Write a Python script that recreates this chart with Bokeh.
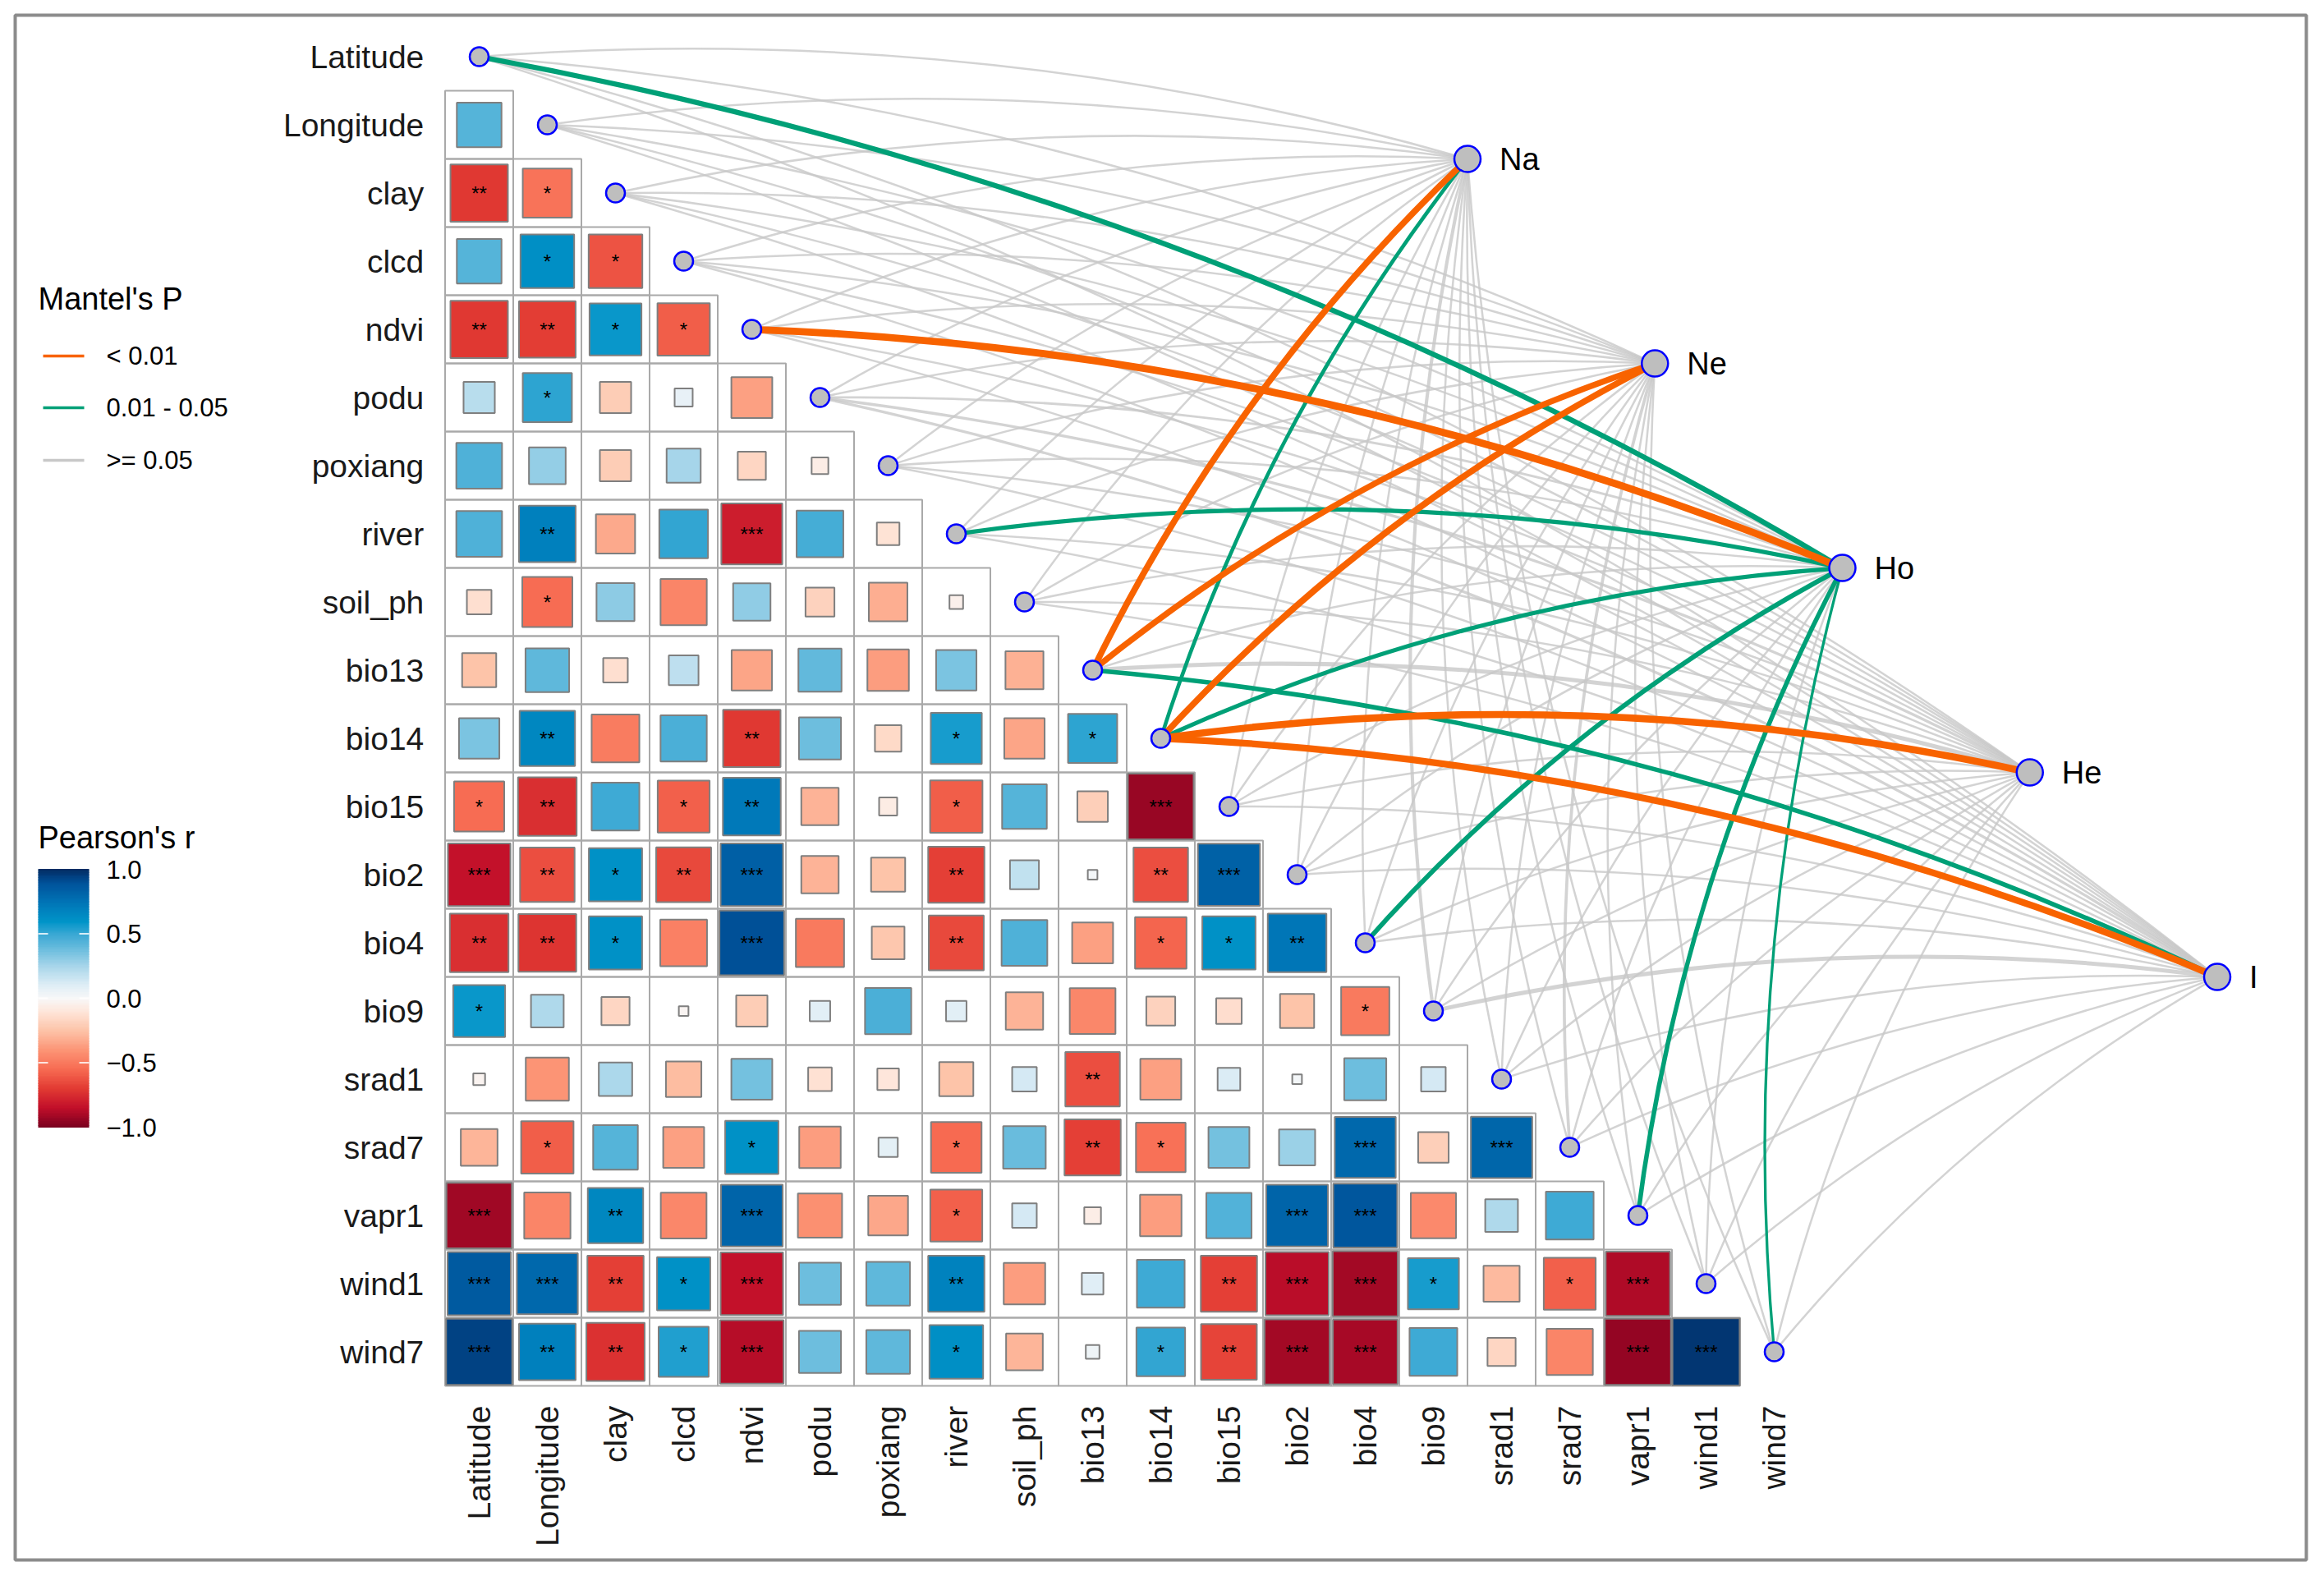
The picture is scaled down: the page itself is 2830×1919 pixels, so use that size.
import math
from bokeh.plotting import figure
from bokeh.models import Range1d, ColumnDataSource, LinearColorMapper
from bokeh.transform import transform
from bokeh.embed import file_html
from bokeh.resources import INLINE
from bokeh.core.properties import value

# ---------------- data ----------------
env_vars = ["Latitude", "Longitude", "clay", "clcd", "ndvi", "podu", "poxiang", "river",
            "soil_ph", "bio13", "bio14", "bio15", "bio2", "bio4", "bio9", "srad1",
            "srad7", "vapr1", "wind1", "wind7"]

# lower-triangle Pearson's r, row i holds r(i, j) for j < i
pearson_r = [
    [],
    [0.43],
    [-0.71, -0.52],
    [0.43, 0.62, -0.62],
    [-0.71, -0.69, 0.58, -0.59],
    [0.21, 0.52, -0.21, 0.07, -0.36],
    [0.45, 0.29, -0.21, 0.25, -0.17, -0.06],
    [0.45, 0.69, -0.33, 0.51, -0.80, 0.47, -0.11],
    [-0.13, -0.54, 0.31, -0.46, 0.30, -0.18, -0.32, -0.04],
    [-0.25, 0.41, -0.13, 0.19, -0.35, 0.40, -0.37, 0.35, -0.31],
    [0.35, 0.66, -0.49, 0.46, -0.71, 0.38, -0.15, 0.56, -0.35, 0.52],
    [-0.54, -0.74, 0.49, -0.58, 0.72, -0.30, -0.07, -0.59, 0.43, -0.20, -0.93],
    [-0.84, -0.64, 0.61, -0.65, 0.84, -0.30, -0.25, -0.68, 0.18, 0.02, -0.64, 0.83],
    [-0.74, -0.72, 0.61, -0.47, 0.90, -0.50, -0.23, -0.65, 0.45, -0.36, -0.57, 0.61, 0.74],
    [0.58, 0.23, -0.17, -0.02, -0.21, 0.09, 0.46, 0.09, -0.30, -0.45, -0.18, -0.14, -0.25, -0.50],
    [-0.03, -0.40, 0.24, -0.27, 0.36, -0.12, -0.10, -0.25, 0.13, -0.64, -0.36, 0.11, 0.02, 0.38, 0.13],
    [-0.29, -0.59, 0.43, -0.36, 0.61, -0.37, 0.08, -0.55, 0.39, -0.68, -0.53, 0.36, 0.28, 0.80, -0.20, 0.81],
    [-0.92, -0.46, 0.66, -0.45, 0.82, -0.42, -0.34, -0.58, 0.13, -0.06, -0.37, 0.44, 0.82, 0.88, -0.44, 0.23, 0.49],
    [0.86, 0.80, -0.68, 0.61, -0.84, 0.38, 0.41, 0.68, -0.37, 0.10, 0.49, -0.68, -0.86, -0.91, 0.56, -0.28, -0.58, -0.89],
    [0.94, 0.69, -0.73, 0.54, -0.87, 0.38, 0.41, 0.62, -0.29, 0.04, 0.51, -0.67, -0.91, -0.90, 0.49, -0.17, -0.46, -0.94, 0.97],
]

pearson_sig = [
    [],
    [""],
    ["**", "*"],
    ["", "*", "*"],
    ["**", "**", "*", "*"],
    ["", "*", "", "", ""],
    ["", "", "", "", "", ""],
    ["", "**", "", "", "***", "", ""],
    ["", "*", "", "", "", "", "", ""],
    ["", "", "", "", "", "", "", "", ""],
    ["", "**", "", "", "**", "", "", "*", "", "*"],
    ["*", "**", "", "*", "**", "", "", "*", "", "", "***"],
    ["***", "**", "*", "**", "***", "", "", "**", "", "", "**", "***"],
    ["**", "**", "*", "", "***", "", "", "**", "", "", "*", "*", "**"],
    ["*", "", "", "", "", "", "", "", "", "", "", "", "", "*"],
    ["", "", "", "", "", "", "", "", "", "**", "", "", "", "", ""],
    ["", "*", "", "", "*", "", "", "*", "", "**", "*", "", "", "***", "", "***"],
    ["***", "", "**", "", "***", "", "", "*", "", "", "", "", "***", "***", "", "", ""],
    ["***", "***", "**", "*", "***", "", "", "**", "", "", "", "**", "***", "***", "*", "", "*", "***"],
    ["***", "**", "**", "*", "***", "", "", "*", "", "", "*", "**", "***", "***", "", "", "", "***", "***"],
]

gene_nodes = ["Na", "Ne", "Ho", "He", "I"]

P_LT01 = "< 0.01"
P_MID = "0.01 - 0.05"
P_GE05 = ">= 0.05"
p_levels = [P_LT01, P_MID, P_GE05]

# Mantel's P class per env var (rows) x node (Na, Ne, Ho, He, I)
mantel_p = [
    [P_GE05, P_GE05, P_MID, P_GE05, P_GE05],    # Latitude
    [P_GE05, P_GE05, P_GE05, P_GE05, P_GE05],   # Longitude
    [P_GE05, P_GE05, P_GE05, P_GE05, P_GE05],   # clay
    [P_GE05, P_GE05, P_GE05, P_GE05, P_GE05],   # clcd
    [P_GE05, P_GE05, P_LT01, P_GE05, P_GE05],   # ndvi
    [P_GE05, P_GE05, P_GE05, P_GE05, P_GE05],   # podu
    [P_GE05, P_GE05, P_GE05, P_GE05, P_GE05],   # poxiang
    [P_GE05, P_GE05, P_MID, P_GE05, P_GE05],    # river
    [P_GE05, P_GE05, P_GE05, P_GE05, P_GE05],   # soil_ph
    [P_LT01, P_LT01, P_GE05, P_GE05, P_MID],    # bio13
    [P_MID, P_LT01, P_MID, P_LT01, P_LT01],     # bio14
    [P_GE05, P_GE05, P_GE05, P_GE05, P_GE05],   # bio15
    [P_GE05, P_GE05, P_GE05, P_GE05, P_GE05],   # bio2
    [P_GE05, P_GE05, P_MID, P_GE05, P_GE05],    # bio4
    [P_GE05, P_GE05, P_GE05, P_GE05, P_GE05],   # bio9
    [P_GE05, P_GE05, P_GE05, P_GE05, P_GE05],   # srad1
    [P_GE05, P_GE05, P_GE05, P_GE05, P_GE05],   # srad7
    [P_GE05, P_GE05, P_MID, P_GE05, P_GE05],    # vapr1
    [P_GE05, P_GE05, P_GE05, P_GE05, P_GE05],   # wind1
    [P_GE05, P_GE05, P_MID, P_GE05, P_GE05],    # wind7
]

# Mantel's r (estimated from line widths)
mantel_r = [
    [0.08, 0.08, 0.37, 0.08, 0.08],
    [0.08, 0.08, 0.08, 0.08, 0.08],
    [0.08, 0.08, 0.08, 0.08, 0.08],
    [0.08, 0.08, 0.08, 0.08, 0.08],
    [0.08, 0.08, 0.56, 0.08, 0.08],
    [0.08, 0.08, 0.10, 0.14, 0.14],
    [0.08, 0.08, 0.08, 0.08, 0.08],
    [0.08, 0.08, 0.29, 0.08, 0.08],
    [0.08, 0.08, 0.08, 0.08, 0.08],
    [0.47, 0.45, 0.08, 0.27, 0.31],
    [0.24, 0.48, 0.29, 0.55, 0.52],
    [0.08, 0.08, 0.08, 0.08, 0.08],
    [0.08, 0.08, 0.08, 0.08, 0.08],
    [0.08, 0.08, 0.33, 0.08, 0.08],
    [0.20, 0.08, 0.08, 0.08, 0.27],
    [0.08, 0.08, 0.08, 0.08, 0.08],
    [0.08, 0.17, 0.08, 0.08, 0.08],
    [0.08, 0.08, 0.31, 0.08, 0.08],
    [0.08, 0.08, 0.08, 0.08, 0.08],
    [0.08, 0.08, 0.14, 0.08, 0.08],
]

cbar_ticks = [1.0, 0.5, 0.0, -0.5, -1.0]
cbar_labels = ["1.0", "0.5", "0.0", "\u22120.5", "\u22121.0"]

# ---------------- styles ----------------
FONT = value("Liberation Sans")
line_colors = {P_LT01: "#F86300", P_MID: "#00A077", P_GE05: "#C8C8C8"}
line_alpha = {P_LT01: 1.0, P_MID: 1.0, P_GE05: 0.8}

anchors = [(-1.0, "#7A001F"), (-0.85, "#C20F2A"), (-0.7, "#E23B33"), (-0.55, "#F76B52"),
           (-0.4, "#FC9576"), (-0.25, "#FDC3A8"), (-0.1, "#FEE6DA"), (0.0, "#F8F8F8"),
           (0.1, "#E0EEF6"), (0.25, "#A8D6EA"), (0.4, "#64BADC"), (0.5, "#3AA8D4"),
           (0.6, "#0094C8"), (0.75, "#0074B6"), (0.9, "#00529A"), (1.0, "#032E66")]


def hex2rgb(h):
    return tuple(int(h[k:k + 2], 16) for k in (1, 3, 5))


palette = []
N = 256
for k in range(N):
    v = -1 + 2 * k / (N - 1)
    for a in range(len(anchors) - 1):
        v0, c0 = anchors[a]
        v1, c1 = anchors[a + 1]
        if v0 <= v <= v1:
            t = (v - v0) / (v1 - v0)
            r0, g0, b0 = hex2rgb(c0)
            r1, g1, b1 = hex2rgb(c1)
            palette.append("#%02X%02X%02X" % (round(r0 + (r1 - r0) * t), round(g0 + (g1 - g0) * t),
                                              round(b0 + (b1 - b0) * t)))
            break
mapper = LinearColorMapper(palette=palette, low=-1, high=1)

# layout helpers (pixel -> data units; 83 px per cell)
def px_x(v):
    return (v - 583.0) / 83.0


def px_y(v):
    return (v - 68.6) / 83.0


W, H = 2814, 1903
p = figure(width=W, height=H, output_backend="svg", toolbar_location=None,
           x_range=Range1d(px_x(18), px_x(2808)), y_range=Range1d(px_y(1899), px_y(18)),
           x_axis_location=None, y_axis_location=None,
           min_border_left=18, min_border_right=W - 2808, min_border_top=18,
           min_border_bottom=H - 1899)
p.grid.visible = False
p.outline_line_color = "#8C8C8C"
p.outline_line_width = 4
p.background_fill_color = "white"
p.border_fill_color = "white"

# ---------------- correlation cells ----------------
cx, cy, rv, side, stars = [], [], [], [], []
for i, row in enumerate(pearson_r):
    for j, r in enumerate(row):
        cx.append(j)
        cy.append(i)
        rv.append(r)
        side.append(math.sqrt(abs(r)))
        stars.append(pearson_sig[i][j])
cells = ColumnDataSource(dict(x=cx, y=cy, r=rv, side=side, stars=stars))

p.rect("x", "y", width=1, height=1, source=cells, fill_color=None,
       line_color="#A9A9A9", line_width=2)
p.rect("x", "y", width="side", height="side", source=cells,
       fill_color=transform("r", mapper), line_color="#7F7F7F", line_width=2)
p.text("x", "y", text="stars", source=cells, text_align="center", text_baseline="middle",
       text_font=FONT, text_font_size="24px", text_color="black")

# ---------------- Mantel links ----------------
node_x = [14.5 + 2.75 * k for k in range(len(gene_nodes))]
node_y = [1.5 + 3.0 * k for k in range(len(gene_nodes))]

links = {lvl: dict(x0=[], y0=[], x1=[], y1=[], cx=[], cy=[], w=[]) for lvl in p_levels}
for i in range(len(env_vars)):
    for k in range(len(gene_nodes)):
        lvl = mantel_p[i][k]
        x0, y0 = float(i), float(i)
        x1, y1 = node_x[k], node_y[k]
        dx, dy = x1 - x0, y1 - y0
        mx, my = (x0 + x1) / 2, (y0 + y1) / 2
        d = links[lvl]
        d["x0"].append(x0); d["y0"].append(y0)
        d["x1"].append(x1); d["y1"].append(y1)
        d["cx"].append(mx + 0.09 * dy)
        d["cy"].append(my - 0.09 * dx)
        d["w"].append(1.5 + 13.0 * mantel_r[i][k])

for lvl in [P_GE05, P_MID, P_LT01]:
    p.quadratic("x0", "y0", "x1", "y1", "cx", "cy", source=ColumnDataSource(links[lvl]),
                line_color=line_colors[lvl], line_alpha=line_alpha[lvl], line_width="w")

# diagonal points and nodes
p.scatter(list(range(len(env_vars))), list(range(len(env_vars))), size=23,
          fill_color="#BEBEBE", line_color="#0000FF", line_width=2.5)
p.scatter(node_x, node_y, size=32, fill_color="#BEBEBE", line_color="#0000FF", line_width=2.5)
p.text([x + 0.47 for x in node_x], node_y, text=gene_nodes, text_align="left",
       text_baseline="middle", text_font=FONT, text_font_size="38px", text_color="black")

# ---------------- axis labels ----------------
idx = list(range(len(env_vars)))
p.text([-0.81] * len(env_vars), idx, text=env_vars, text_align="right", text_baseline="middle",
       text_font=FONT, text_font_size="39px", text_color="#1A1A1A")
p.text(idx, [19.79] * len(env_vars), text=env_vars, angle=math.pi / 2, text_align="right",
       text_baseline="middle", text_font=FONT, text_font_size="39px", text_color="#1A1A1A")

# ---------------- Mantel's P legend ----------------
p.text([px_x(46)], [px_y(363)], text=["Mantel's P"], text_align="left", text_baseline="middle",
       text_font=FONT, text_font_size="38px", text_color="black")
leg_y = [px_y(433), px_y(496), px_y(560)]
p.segment([px_x(52)] * 3, leg_y, [px_x(102)] * 3, leg_y,
          line_color=[line_colors[l] for l in p_levels], line_width=3.5)
p.text([px_x(129)] * 3, leg_y, text=p_levels, text_align="left", text_baseline="middle",
       text_font=FONT, text_font_size="31px", text_color="black")

# ---------------- Pearson's r colour bar ----------------
p.text([px_x(46)], [px_y(1019)], text=["Pearson's r"], text_align="left", text_baseline="middle",
       text_font=FONT, text_font_size="38px", text_color="black")
nb = 160
bar_v = [-1 + 2 * (k + 0.5) / nb for k in range(nb)]
bar_top, bar_bot = 1058.0, 1372.0


def v2y(v):
    return px_y((bar_top + bar_bot) / 2 - v * (bar_bot - bar_top) / 2)


bar = ColumnDataSource(dict(x=[px_x(77)] * nb, y=[v2y(v) for v in bar_v], v=bar_v))
p.rect("x", "y", width=(108 - 46) / 83.0, height=(bar_bot - bar_top) / nb / 83.0 * 1.4,
       source=bar, fill_color=transform("v", mapper), line_color=None)
inner = [t for t in cbar_ticks if abs(t) < 1]
p.segment([px_x(46)] * len(inner), [v2y(t) for t in inner], [px_x(58)] * len(inner),
          [v2y(t) for t in inner], line_color="white", line_width=2, line_alpha=0.8)
p.segment([px_x(96)] * len(inner), [v2y(t) for t in inner], [px_x(108)] * len(inner),
          [v2y(t) for t in inner], line_color="white", line_width=2, line_alpha=0.8)
p.text([px_x(129)] * len(cbar_ticks), [v2y(t) for t in cbar_ticks], text=cbar_labels,
       text_align="left", text_baseline="middle", text_font=FONT, text_font_size="31px",
       text_color="black")

open("out.html", "w").write(file_html(p, INLINE))
